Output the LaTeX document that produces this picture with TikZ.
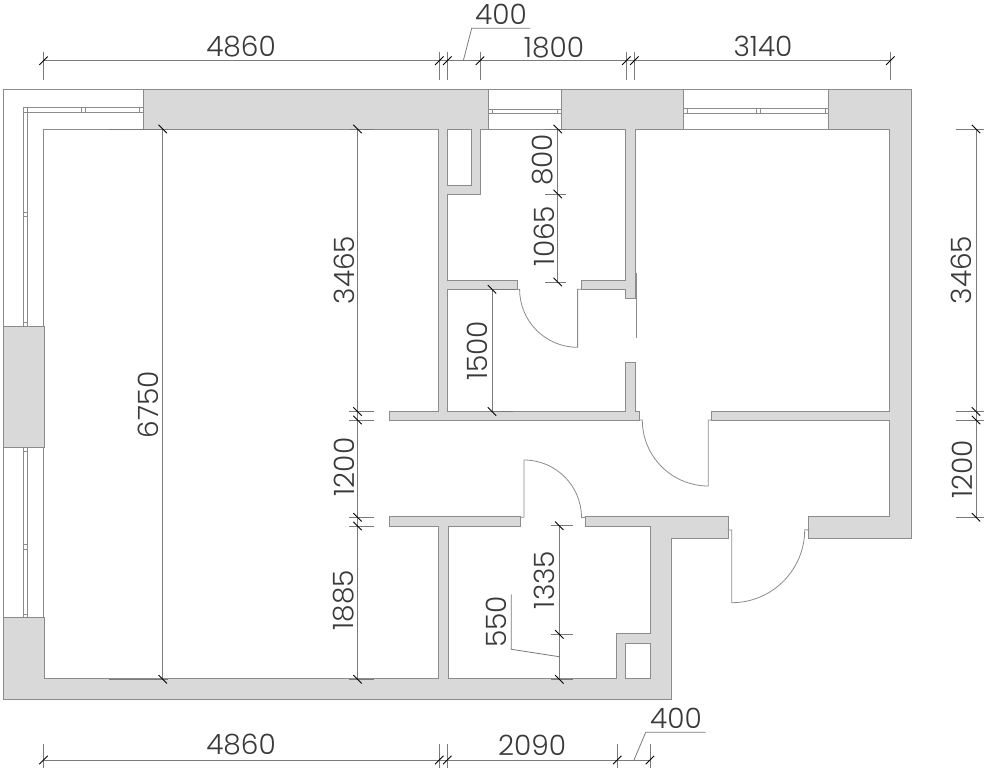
\documentclass[tikz,border=0pt]{standalone}
\usepackage{fontspec}
\setmainfont{Poppins Light}
\definecolor{wallfill}{HTML}{D9D9D9}
\definecolor{wallline}{HTML}{8C8C8C}
\definecolor{dimline}{HTML}{7A7A7A}
\definecolor{labelink}{HTML}{3A3A3A}
\tikzset{
  plan/.style={x=1pt,y=-1pt},
  thin line/.style={draw=wallline,line width=0.8pt},
  dim line/.style={draw=dimline,line width=0.8pt},
  tick line/.style={draw=black,line width=0.9pt},
  dimtext/.style={text=labelink,font=\fontsize{28}{28}\selectfont,inner sep=0pt},
  vtext/.style={dimtext,rotate=90}
}
\newcommand{\tickH}[2]{\draw[tick line] (#1-4.2,#2+4.2) -- (#1+4.2,#2-4.2);}
\newcommand{\tickV}[2]{\draw[tick line] (#1-4.2,#2-4.2) -- (#1+4.2,#2+4.2);}
\begin{document}
\begin{tikzpicture}[plan]
\useasboundingbox[fill=white] (0,0) rectangle (984,768);
% window frames
\draw[thin line] (143.5,89.5) -- (3.5,89.5) -- (3.5,618);
\draw[thin line] (143.5,129) -- (43.5,129) -- (43.5,618);
\draw[thin line] (488,89.5) -- (562,89.5) (488,129) -- (562,129);
\draw[thin line] (683,89.5) -- (830,89.5) (683,129) -- (830,129);
% window panes
\draw[thin line,fill=white] (23.5,107.7) -- (143.5,107.7) -- (143.5,112) -- (27.5,112) -- (27.5,326.7) -- (23.5,326.7) -- cycle;
\draw[thin line,fill=white] (23.5,447) rectangle (27.5,618.3);
\foreach \a/\b in {23.5/27.5,81/85.5,139.5/143.5}
  \draw[thin line] (\a,107.7) rectangle (\b,112);
\foreach \a/\b in {107.7/112,212/216,322.7/326.7,447/451.5,544.5/549,614/618.3}
  \draw[thin line] (23.5,\a) rectangle (27.5,\b);
\draw[thin line,fill=white] (488.3,109) rectangle (561.7,113);
\foreach \a/\b in {488.3/492.5,557.5/561.7}
  \draw[thin line] (\a,109) rectangle (\b,113);
\draw[thin line,fill=white] (682.7,108.7) rectangle (829.4,113);
\foreach \a/\b in {682.7/687.2,756/760.5,825/829.4}
  \draw[thin line] (\a,108.7) rectangle (\b,113);
% walls: outline first, then fill over the inner half of every outline
\def\wallrects{
  143.5/89.5/488.3/129, 561.7/89.5/682.7/129, 829.4/89.5/910.6/129,
  890.4/89.5/910.6/537.7, 809.3/517.3/910.6/537.7, 650.7/517.3/727.5/537.7,
  650.7/517.3/670.7/699.3, 3.5/679.3/670.7/699.3, 3.5/618.3/43.5/699.3,
  3.5/326.7/43.5/447, 439.3/129/447.3/420, 390.3/411.5/639/420,
  712.3/411.5/890.4/420, 390.3/517.3/520/526, 585.7/517.3/650.7/526,
  439.3/517.3/447.5/679.3, 472.3/129/480.3/194, 439.3/186.3/480.3/194,
  626.3/129/634.5/297.7, 626.3/362.7/634.5/420, 439.3/281.3/516.7/289.3,
  581.7/281.3/634.5/289.3, 617.3/634.3/625.3/679.3, 617.3/634.3/650.7/642.7}
\foreach \a/\b/\c/\d in \wallrects
  \draw[draw=wallline,line width=2pt] (\a,\b) rectangle (\c,\d);
\foreach \a/\b/\c/\d in \wallrects
  \fill[wallfill] (\a,\b) rectangle (\c,\d);
% doors
\draw[thin line] (516.7,289.3) -- (519.6,289.3) arc[start angle=180,end angle=90,radius=58] -- (577.6,289.3) -- (581.7,289.3);
\draw[thin line] (639,420) -- (642.3,420) arc[start angle=180,end angle=90,radius=66] -- (708.3,420) -- (712.3,420);
\draw[thin line] (520,517.3) -- (524,517.3) -- (524,460) arc[start angle=-90,end angle=0,radius=57.5] -- (585.7,517.3);
\draw[thin line] (727.5,530) -- (731.7,530) -- (731.7,602.7) arc[start angle=90,end angle=0,radius=73] -- (809.3,530);
\draw[thin line] (636.7,273.3) -- (636.7,338.3);
% top dimension
\draw[dim line] (43.5,60.7) -- (890.3,60.7);
\foreach \x in {43.5,439.3,447.3,480,626.3,634.3,890.3} {
  \draw[dim line] (\x,52) -- (\x,80);
  \tickH{\x}{60.7}
}
\draw[dim line] (463.3,60.7) -- (471.7,28.3) -- (530,28.3);
% bottom dimension
\draw[dim line] (43.5,760) -- (650,760);
\foreach \x in {43.5,439.3,447.3,617.3,650} {
  \draw[dim line] (\x,744) -- (\x,768);
  \tickH{\x}{760}
}
\draw[dim line] (634,760) -- (645.7,732.3) -- (705.7,732.3);
% long vertical 6750
\draw[dim line] (162.7,129) -- (162.7,679.3);
\draw[dim line] (108.5,129) -- (168,129) (108.5,679.3) -- (168,679.3);
\tickV{162.7}{129} \tickV{162.7}{679.3}
% vertical at x=357.5
\draw[dim line] (357.5,129) -- (357.5,679.3);
\foreach \y in {129,411.5,420,517.3,526,679.3} {
  \draw[dim line] (349.3,\y) -- (374.3,\y);
  \tickV{357.5}{\y}
}
% vertical at x=557.7
\draw[dim line] (557.7,129) -- (557.7,282);
\foreach \y in {129,194,282} {
  \draw[dim line] (545,\y) -- (565.7,\y);
  \tickV{557.7}{\y}
}
% vertical at x=492
\draw[dim line] (492,289.3) -- (492,411.5);
\draw[dim line] (492,289.3) -- (516,289.3) (492,411.5) -- (513,411.5);
\tickV{492}{289.3} \tickV{492}{411.5}
% vertical at x=559.3
\draw[dim line] (559.3,525.7) -- (559.3,679.3);
\foreach \y in {525.7,634.3,679.3} {
  \draw[dim line] (551,\y) -- (573.3,\y);
  \tickV{559.3}{\y}
}
\draw[dim line] (511.3,594.3) -- (511.3,649.3) -- (559.3,656.7);
% right vertical
\draw[dim line] (976,129) -- (976,517.3);
\foreach \y in {129,411.5,420,517.3} {
  \draw[dim line] (955.5,\y) -- (984,\y);
  \tickV{976}{\y}
}
% labels
\node[dimtext] (t4860) at (241,47) {4860};
\node[dimtext] (t400a) at (501,14) {400};
\node[dimtext] (t1800) at (554,48) {1800};
\node[dimtext] (t3140) at (763,46) {3140};
\node[dimtext] (b4860) at (241,745) {4860};
\node[dimtext] (b2090) at (532,745) {2090};
\node[dimtext] (b400) at (676,718) {400};
\node[vtext] (v6750) at (148,404.5) {6750};
\node[vtext] (v3465) at (344,270) {3465};
\node[vtext] (v1200) at (344,467) {1200};
\node[vtext] (v1885) at (344,600) {1885};
\node[vtext] (v800) at (543,160) {800};
\node[vtext] (v1065) at (544,236) {1065};
\node[vtext] (v1500) at (477.5,351) {1500};
\node[vtext] (v1335) at (544.3,580) {1335};
\node[vtext] (v550) at (496.7,621.7) {550};
\node[vtext] (r3465) at (961,270) {3465};
\node[vtext] (r1200) at (962,469.3) {1200};
\end{tikzpicture}
\end{document}
